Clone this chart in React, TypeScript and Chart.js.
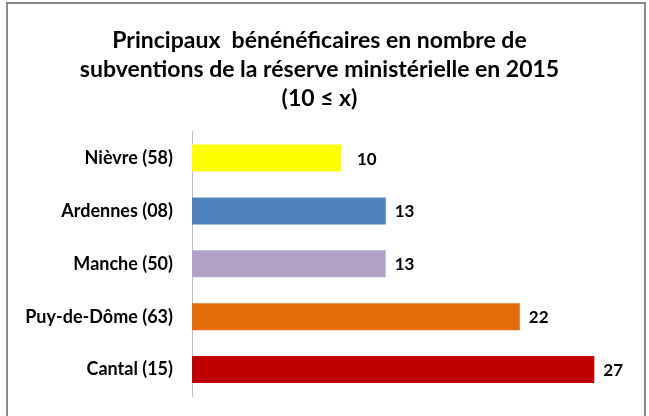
import React, { useEffect, useRef } from "react";
import { Chart, registerables } from "chart.js";

Chart.register(...registerables);

const titleLines = [
  "Principaux  bénénéficaires en nombre de",
  "subventions de la réserve ministérielle en 2015",
  "(10 ≤ x)",
];
const categories = ["Nièvre (58)", "Ardennes (08)", "Manche (50)", "Puy-de-Dôme (63)", "Cantal (15)"];
const values = [10, 13, 13, 22, 27];
const barColors = ["#FFFF00", "#4F81BD", "#B3A2C7", "#E46C0A", "#C00000"];

const FONT = "Lato, 'Open Sans', sans-serif";

const framePlugin = {
  id: "frame",
  beforeDraw(chart: any) {
    const ctx = chart.ctx;
    ctx.save();
    ctx.fillStyle = "#ffffff";
    ctx.fillRect(0, 0, chart.width, chart.height);
    ctx.strokeStyle = "#8a8a8a";
    ctx.lineWidth = 2;
    ctx.strokeRect(7, 3, chart.width - 11, chart.height + 10);
    ctx.restore();
  },
};

const valueLabelPlugin = {
  id: "valueLabels",
  afterDatasetsDraw(chart: any) {
    const ctx = chart.ctx;
    const meta = chart.getDatasetMeta(0);
    ctx.save();
    ctx.font = `bold 17px ${FONT}`;
    ctx.fillStyle = "#000000";
    ctx.textAlign = "left";
    ctx.textBaseline = "middle";
    meta.data.forEach((bar: any, i: number) => {
      const v = chart.data.datasets[0].data[i];
      ctx.fillText(String(v), bar.x + (i === 0 ? 16 : 9), bar.y + 1);
    });
    ctx.restore();
  },
};

export default function App() {
  const ref = useRef<HTMLCanvasElement | null>(null);
  useEffect(() => {
    if (!ref.current) return;
    const chart = new Chart(ref.current, {
      type: "bar",
      data: {
        labels: categories,
        datasets: [
          {
            data: values,
            backgroundColor: barColors,
            borderWidth: 0,
            categoryPercentage: 1,
            barPercentage: 0.51,
          },
        ],
      },
      options: {
        indexAxis: "y",
        animation: false,
        responsive: true,
        maintainAspectRatio: false,
        layout: { padding: { left: 0, right: 10, top: 0, bottom: 20 } },
        plugins: {
          legend: { display: false },
          tooltip: { enabled: false },
          title: {
            display: true,
            text: titleLines,
            color: "#000000",
            font: { family: FONT, size: 23, weight: "bold", lineHeight: 1.27 },
            padding: { top: 26, bottom: 18 },
          },
        },
        scales: {
          x: { display: false, min: 0, max: 30 },
          y: {
            grid: { display: false, drawTicks: false },
            border: { display: true, color: "#BFBFBF", width: 1 },
            ticks: {
              color: "#000000",
              padding: 19,
              font: { family: FONT, size: 18, weight: "bold" },
            },
            afterFit(scale: any) {
              scale.width = 192;
              scale.paddingTop = 0;
              scale.paddingBottom = 0;
            },
          },
        },
      },
      plugins: [framePlugin, valueLabelPlugin],
    } as any);
    return () => chart.destroy();
  }, []);
  return (
    <div style={{ position: "absolute", left: 0, top: 0, width: 649, height: 416 }}>
      <canvas ref={ref} />
    </div>
  );
}
